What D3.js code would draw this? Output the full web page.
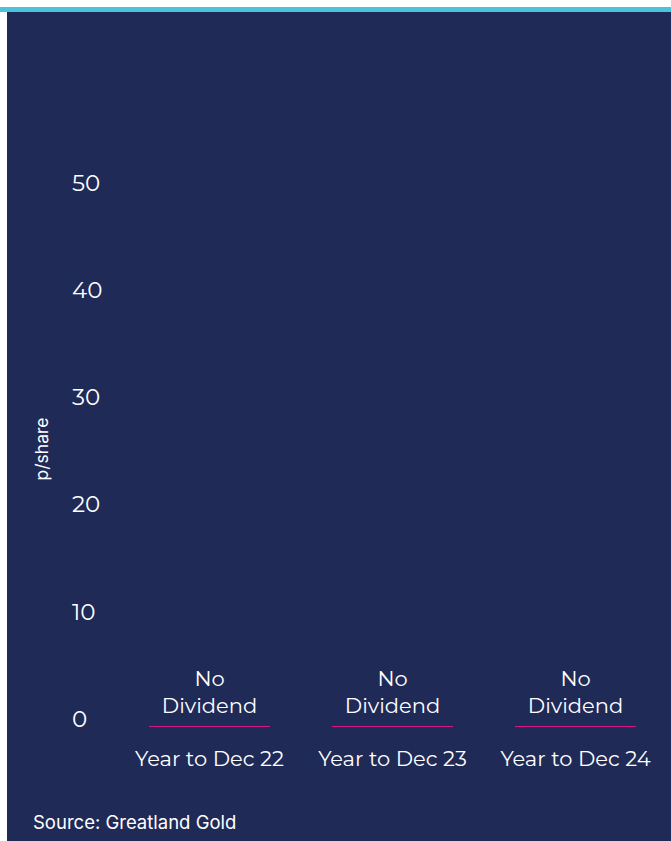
<!DOCTYPE html>
<html>
<head>
<meta charset="utf-8">
<script src="https://cdn.jsdelivr.net/npm/d3@7"></script>
<style>
  body { margin: 0; background: #fff; }
  svg text { fill: #fff; }
</style>
</head>
<body>
<script>
// Chart data
const categories = ["Year to Dec 22", "Year to Dec 23", "Year to Dec 24"];
const dividends = [0, 0, 0];
const barLabels = ["No Dividend", "No Dividend", "No Dividend"];
const yTicks = [0, 10, 20, 30, 40, 50];

const W = 671, H = 841;

const svg = d3.select("body")
    .append("svg")
    .attr("width", W)
    .attr("height", H);

// Background panel and top stripe
svg.append("rect")
    .attr("x", 7).attr("y", 12)
    .attr("width", W - 7).attr("height", H - 12)
    .attr("fill", "#1f2a57");
svg.append("rect")
    .attr("x", 0).attr("y", 7)
    .attr("width", W).attr("height", 5)
    .attr("fill", "#4cc3db");

// Scales
const x = d3.scaleBand()
    .domain(categories)
    .range([118, 667])
    .paddingInner(0.34)
    .paddingOuter(0.17);

const y = d3.scaleLinear()
    .domain([0, 50])
    .range([727, 191]);

// Y tick labels
const yAxis = d3.axisLeft(y)
    .tickValues(yTicks)
    .tickSize(0)
    .tickPadding(0);

const gy = svg.append("g")
    .attr("transform", "translate(72,-8)")
    .call(yAxis);
gy.select(".domain").remove();
gy.selectAll("text")
    .attr("text-anchor", "start")
    .attr("font-family", "Montserrat, 'Open Sans', sans-serif")
    .attr("font-size", 23)
    .attr("fill", "#fff");

// Y axis title
svg.append("text")
    .attr("transform", "translate(48," + 449 + ") rotate(-90)")
    .attr("text-anchor", "middle")
    .attr("font-family", "Inter, sans-serif")
    .attr("font-size", 17.5)
    .text("p/share");

// Bars (zero height, drawn as a thin line)
svg.selectAll(".bar")
    .data(dividends)
    .enter()
    .append("rect")
    .attr("class", "bar")
    .attr("x", (d, i) => Math.round(x(categories[i])))
    .attr("y", d => Math.round(y(d)) - 1)
    .attr("width", Math.round(x.bandwidth()))
    .attr("height", d => Math.max(1, y(0) - y(d)))
    .attr("fill", "#d6177f");

// Bar labels
const lbl = svg.selectAll(".lbl")
    .data(barLabels)
    .enter()
    .append("text")
    .attr("class", "lbl")
    .attr("text-anchor", "middle")
    .attr("font-family", "Montserrat, 'Open Sans', sans-serif")
    .attr("font-size", 21)
    .attr("x", (d, i) => x(categories[i]) + x.bandwidth() / 2);
lbl.append("tspan")
    .attr("x", (d, i) => x(categories[i]) + x.bandwidth() / 2)
    .attr("y", (d, i) => y(dividends[i]) - 41)
    .text(d => d.split(" ")[0]);
lbl.append("tspan")
    .attr("x", (d, i) => x(categories[i]) + x.bandwidth() / 2)
    .attr("y", (d, i) => y(dividends[i]) - 14)
    .text(d => d.split(" ")[1]);

// X axis
const xAxis = d3.axisBottom(x).tickSize(0).tickPadding(0);
const gx = svg.append("g")
    .attr("transform", "translate(0,751)")
    .call(xAxis);
gx.select(".domain").remove();
gx.selectAll("text")
    .attr("font-family", "Montserrat, 'Open Sans', sans-serif")
    .attr("font-size", 21)
    .attr("fill", "#fff");

// Source
svg.append("text")
    .attr("x", 33).attr("y", 829)
    .attr("font-family", "Inter, sans-serif")
    .attr("font-size", 18.5)
    .text("Source: Greatland Gold");
</script>
</body>
</html>
